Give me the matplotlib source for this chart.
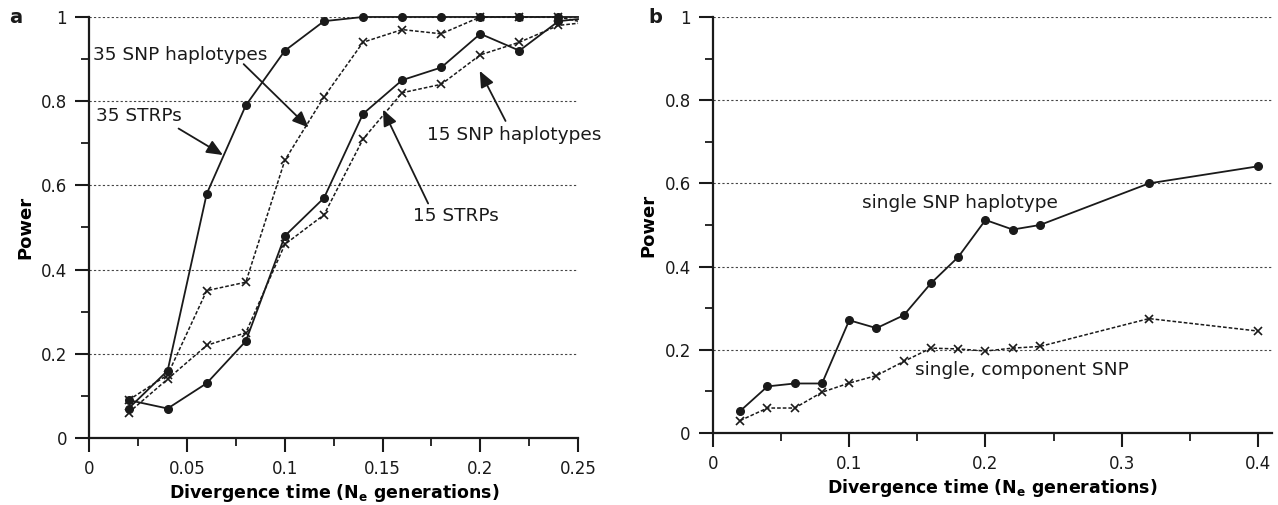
import matplotlib
matplotlib.use("Agg")
import matplotlib.pyplot as plt
from matplotlib.ticker import MultipleLocator

plt.rcParams["font.family"] = "DejaVu Sans"

# Panel a: divergence times, the last point (0.25) only extends the line
time_a = [0.02, 0.04, 0.06, 0.08, 0.10, 0.12, 0.14, 0.16, 0.18, 0.20, 0.22, 0.24, 0.25]
strp_35 = [0.07, 0.16, 0.58, 0.79, 0.92, 0.99, 1.0, 1.0, 1.0, 1.0, 1.0, 1.0, 1.0]
strp_15 = [0.09, 0.07, 0.13, 0.23, 0.48, 0.57, 0.77, 0.85, 0.88, 0.96, 0.92, 0.99, 0.995]
snp_hap_35 = [0.09, 0.15, 0.35, 0.37, 0.66, 0.81, 0.94, 0.97, 0.96, 1.0, 1.0, 1.0, 0.99]
snp_hap_15 = [0.06, 0.14, 0.22, 0.25, 0.46, 0.53, 0.71, 0.82, 0.84, 0.91, 0.94, 0.98, 0.985]

# Panel b
time_b = [0.02, 0.04, 0.06, 0.08, 0.10, 0.12, 0.14, 0.16, 0.18, 0.20, 0.22, 0.24, 0.32, 0.40]
single_hap = [0.053, 0.112, 0.119, 0.119, 0.271, 0.252, 0.283, 0.36, 0.423, 0.512, 0.489, 0.50, 0.60, 0.641]
single_snp = [0.030, 0.060, 0.060, 0.098, 0.120, 0.138, 0.172, 0.204, 0.202, 0.197, 0.204, 0.208, 0.275, 0.245]

INK = "#1a1a1a"
LABEL_FS = 13.3
SOLID = dict(color=INK, lw=1.3, marker="o", ms=5.5, clip_on=False)
DASHED = dict(color=INK, lw=1.1, ls=(0, (2.4, 1.3)), marker="x", ms=6, mew=1.2, clip_on=False)
ARROW = dict(arrowstyle="-|>,head_length=0.7,head_width=0.3", color=INK, lw=1.3,
             mutation_scale=14, shrinkA=0, shrinkB=0)

fig = plt.figure(figsize=(12.78, 5.05), dpi=100)
ax_a = fig.add_axes([0.0700, 0.1327, 0.3823, 0.8337])
ax_b = fig.add_axes([0.5579, 0.1426, 0.4371, 0.8238])


def style_axis(ax, xmax, xmajor, xminor):
    ax.set_xlim(0, xmax)
    ax.set_ylim(0, 1)
    for s in ("top", "right"):
        ax.spines[s].set_visible(False)
    for s in ("left", "bottom"):
        ax.spines[s].set_linewidth(1.6)
        ax.spines[s].set_color(INK)
    ax.xaxis.set_major_locator(MultipleLocator(xmajor))
    ax.xaxis.set_minor_locator(MultipleLocator(xminor))
    ax.yaxis.set_major_locator(MultipleLocator(0.2))
    ax.yaxis.set_minor_locator(MultipleLocator(0.1))
    ax.tick_params(which="major", direction="out", length=10, width=1.5,
                   color=INK, labelsize=12, labelcolor=INK, pad=6)
    ax.tick_params(which="minor", direction="out", length=5.5, width=1.3, color=INK)
    ax.yaxis.set_major_formatter(lambda v, _: f"{v:g}")
    ax.xaxis.set_major_formatter(lambda v, _: f"{v:g}")
    ax.grid(axis="y", which="major", color="#444444", lw=0.8, ls=(0, (2, 2)))
    ax.set_axisbelow(True)
    ax.set_ylabel("Power", fontsize=13, fontweight="bold", labelpad=5)
    ax.set_xlabel("Divergence time (N$_\\mathbf{e}$ generations)", fontsize=12.5,
                  fontweight="bold", labelpad=3)


style_axis(ax_a, 0.25, 0.05, 0.025)
style_axis(ax_b, 0.41, 0.1, 0.05)

marks = slice(0, 12)
ax_a.plot(time_a, strp_35, markevery=marks, **SOLID)
ax_a.plot(time_a, strp_15, markevery=marks, **SOLID)
ax_a.plot(time_a, snp_hap_35, markevery=marks, **DASHED)
ax_a.plot(time_a, snp_hap_15, markevery=marks, **DASHED)

ax_a.annotate("", xy=(0.1121, 0.7375), xytext=(0.0789, 0.888), arrowprops=ARROW)
ax_a.text(0.0464, 0.909, "35 SNP haplotypes", fontsize=LABEL_FS, ha="center", va="center", color=INK)
ax_a.annotate("", xy=(0.0683, 0.672), xytext=(0.0456, 0.735), arrowprops=ARROW)
ax_a.text(0.0255, 0.764, "35 STRPs", fontsize=LABEL_FS, ha="center", va="center", color=INK)
ax_a.annotate("", xy=(0.1502, 0.780), xytext=(0.1733, 0.557), arrowprops=ARROW)
ax_a.text(0.1873, 0.527, "15 STRPs", fontsize=LABEL_FS, ha="center", va="center", color=INK)
ax_a.annotate("", xy=(0.1997, 0.872), xytext=(0.2129, 0.753), arrowprops=ARROW)
ax_a.text(0.2175, 0.719, "15 SNP haplotypes", fontsize=LABEL_FS, ha="center", va="center", color=INK)

ax_b.plot(time_b, single_hap, **SOLID)
ax_b.plot(time_b, single_snp, **DASHED)
ax_b.text(0.181, 0.553, "single SNP haplotype", fontsize=LABEL_FS, ha="center", va="center", color=INK)
ax_b.text(0.227, 0.152, "single, component SNP", fontsize=LABEL_FS, ha="center", va="center", color=INK)

fig.text(0.007, 0.966, "a", fontsize=14, fontweight="bold", ha="left", va="center", color=INK)
fig.text(0.507, 0.966, "b", fontsize=14, fontweight="bold", ha="left", va="center", color=INK)

fig.savefig("out.png", dpi=100)
